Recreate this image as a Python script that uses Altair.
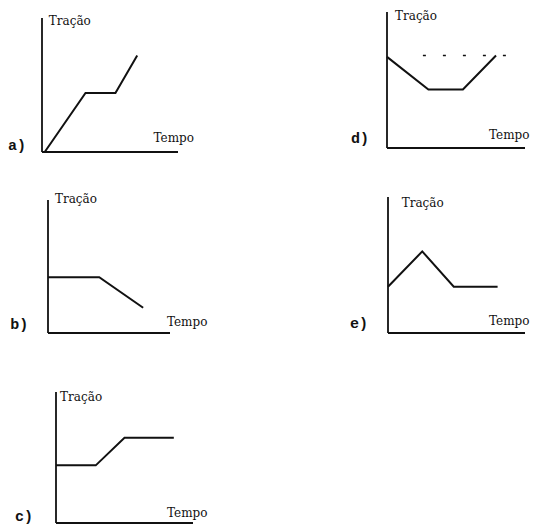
import altair as alt
import pandas as pd

# ---- data: (time, traction) vertices of each sketch, in axis units 0..10 ----
A_T = [0.2, 3.2, 5.4, 7.0]
A_F = [0.0, 4.4, 4.4, 7.2]

B_T = [0.0, 4.2, 7.8]
B_F = [4.2, 4.2, 1.9]

C_T = [0.0, 2.9, 5.0, 8.6]
C_F = [4.4, 4.4, 6.5, 6.5]

D_T = [0.0, 3.0, 5.5, 7.9]
D_F = [6.7, 4.3, 4.3, 6.8]
D_REF_T = [2.6, 9.5]
D_REF_F = [6.8, 6.8]

E_T = [0.0, 2.5, 4.8, 8.0]
E_F = [3.4, 6.0, 3.4, 3.4]

Y_LABEL = "Tração"
X_LABEL = "Tempo"
LETTERS = ["a)", "b)", "c)", "d)", "e)"]
AXIS_MAX = 10

INK = "#111111"


def panel(t, f, letter, label_pos, xr, yr, ref=None):
    xs = alt.Scale(domain=[0, AXIS_MAX], range=xr, nice=False, zero=False)
    ys = alt.Scale(domain=[0, AXIS_MAX], range=yr, nice=False, zero=False)
    X = lambda fld: alt.X(fld, type="quantitative", scale=xs, axis=None)
    Y = lambda fld: alt.Y(fld, type="quantitative", scale=ys, axis=None)

    axes_df = pd.DataFrame({"t": [0, 0], "t2": [AXIS_MAX, 0],
                            "f": [0, 0], "f2": [0, AXIS_MAX]})
    axes = alt.Chart(axes_df).mark_rule(color=INK, strokeWidth=1.8).encode(
        x=X("t"), x2="t2", y=Y("f"), y2="f2")

    line_df = pd.DataFrame({"t": t, "f": f, "i": list(range(len(t)))})
    line = alt.Chart(line_df).mark_line(color=INK, strokeWidth=2).encode(
        x=X("t"), y=Y("f"), order="i:Q")

    (yt, yf), (xt, xf), (lt, lf) = label_pos
    lab_df = pd.DataFrame({"t": [yt, xt], "f": [yf, xf], "s": [Y_LABEL, X_LABEL]})
    labs = alt.Chart(lab_df).mark_text(
        align="left", baseline="alphabetic", font="DejaVu Serif",
        fontSize=12, color=INK).encode(x=X("t"), y=Y("f"), text="s:N")

    let_df = pd.DataFrame({"t": [lt], "f": [lf], "s": [letter]})
    let = alt.Chart(let_df).mark_text(
        align="left", baseline="alphabetic", font="Liberation Mono",
        fontSize=15, fontWeight="bold", color=INK).encode(
        x=X("t"), y=Y("f"), text="s:N")

    layers = [axes, line, labs, let]
    if ref is not None:
        ref_df = pd.DataFrame({"t": ref[0], "f": ref[1]})
        layers.append(alt.Chart(ref_df).mark_line(
            color=INK, strokeWidth=1.6, strokeDash=[3, 17]).encode(
            x=X("t"), y=Y("f")))
    return alt.layer(*layers)


pa = panel(A_T, A_F, LETTERS[0], [(0.5, 9.5), (8.2, 0.75), (-2.5, 0.15)],
           [34, 170], [144, 10])
pb = panel(B_T, B_F, LETTERS[1], [(0.57, 9.77), (9.75, 0.5), (-3.1, 0.3)],
           [40, 162], [325, 192])
pc = panel(C_T, C_F, LETTERS[2], [(0.3, 9.3), (8.1, 0.46), (-3.0, 0.15)],
           [48, 185], [515, 384])
pd_ = panel(D_T, D_F, LETTERS[3], [(0.58, 9.4), (7.39, 0.66), (-2.6, 0.37)],
            [379, 517], [140, 4], ref=(D_REF_T, D_REF_F))
pe = panel(E_T, E_F, LETTERS[4], [(1.0, 9.26), (7.37, 0.59), (-2.77, 0.37)],
           [380, 517], [325, 189])

chart = alt.layer(pa, pb, pc, pd_, pe).resolve_scale(
    x="independent", y="independent"
).properties(
    width=522, height=519, padding=0,
    autosize=alt.AutoSizeParams(type="none"),
    background="white",
).configure_view(stroke=None)

chart.save("out.html", embed_options={"renderer": "svg", "actions": False})
